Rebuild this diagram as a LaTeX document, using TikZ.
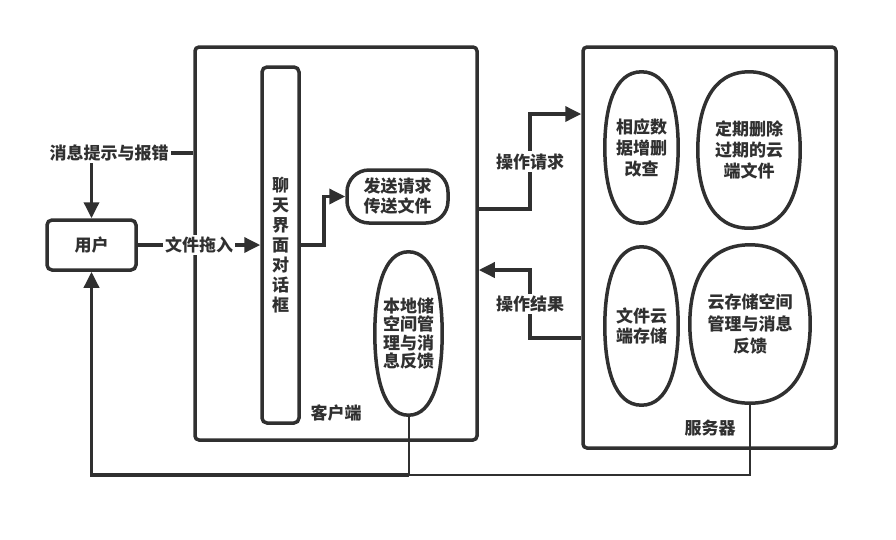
\documentclass[tikz,border=0pt]{standalone}
\usepackage{fontspec}
\setmainfont{Noto Sans CJK SC}
\usepackage{tikz}
\usetikzlibrary{arrows.meta,calc}
\definecolor{ink}{HTML}{303030}
\tikzset{
  line/.style={draw=ink, line width=3.5pt},
  thinline/.style={draw=ink, line width=2pt},
  arr/.style={line, -{Triangle[length=16pt,width=15pt]}},
  txt/.style={font=\bfseries\fontsize{17}{20}\selectfont, text=ink, align=center, inner sep=2pt},
  frame/.style={line, rounded corners=4pt, inner sep=0pt},
  box/.style={line, rounded corners=5pt, inner sep=0pt, txt},
  oval/.style={inner sep=0pt, txt}
}
% outline of an oval node, drawn round its anchors
\newcommand{\ovalpath}[1]{%
  (#1.east) .. controls ($(#1.east)!0.52!(#1.north east)$) and ($(#1.north)!0.75!(#1.north east)$) .. (#1.north)
  .. controls ($(#1.north)!0.75!(#1.north west)$) and ($(#1.west)!0.52!(#1.north west)$) .. (#1.west)
  .. controls ($(#1.west)!0.52!(#1.south west)$) and ($(#1.south)!0.75!(#1.south west)$) .. (#1.south)
  .. controls ($(#1.south)!0.75!(#1.south east)$) and ($(#1.east)!0.52!(#1.south east)$) .. (#1.east) -- cycle}
\begin{document}
\begin{tikzpicture}[x=1pt,y=-1pt]
\useasboundingbox (0,0) rectangle (896,539);
% frames
\node[frame, minimum width=282pt, minimum height=393pt] (client) at (336,243.5) {};
\node[frame, minimum width=253pt, minimum height=401pt] (server) at (709.5,247.5) {};
\node[txt] (clientlbl) at (336,413) {客户端};
\node[txt] (serverlbl) at (710,428) {服务器};
% client side
\node[box, minimum width=89pt, minimum height=50pt] (user) at (91.5,245) {用户};
\node[box, minimum width=37pt, minimum height=356pt] (chat) at (280.5,245) {聊\\天\\界\\面\\对\\话\\框};
\node[box, rounded corners=22pt, minimum width=101pt, minimum height=53pt] (send) at (397.5,196.5) {发送请求\\传送文件};
\node[oval, font=\bfseries\fontsize{17}{18.5}\selectfont, minimum width=67pt, minimum height=163pt] (local) at (408.5,333.5) {本地储\\空间管\\理与消\\息反馈};
% server side
\node[oval, font=\bfseries\fontsize{17}{21}\selectfont, minimum width=73pt, minimum height=151pt] (crud) at (641.5,147.5) {相应数\\据增删\\改查};
\node[oval, font=\bfseries\fontsize{17}{21}\selectfont, minimum width=102pt, minimum height=156pt] (expire) at (749,150) {定期删除\\过期的云\\端文件};
\node[oval, minimum width=73pt, minimum height=158pt] (store) at (641.5,326) {文件云\\端存储};
\node[oval, font=\bfseries\fontsize{17}{22}\selectfont, minimum width=120pt, minimum height=158pt] (cloud) at (750,324) {云存储空间\\管理与消息\\反馈};
\foreach \n in {local,crud,expire,store,cloud}
  \draw[line] \ovalpath{\n};
% connectors
\node[txt] (msg) at (109,153) {消息提示与报错};
\draw[line] (client.west |- msg.east) -- (msg.east);
\draw[arr] (msg.south -| user.north) -- (user.north);
\draw[arr] (user.east) -- node[txt, fill=white] (drag) {文件拖入} (chat.west);
\draw[arr] (chat.east) -- ++(23,0) |- (send.west);
\draw[arr] (client.east |- 0,209) -- (530,209) |- node[pos=0.25, txt, fill=white] (req) {操作请求} (server.west |- 0,114);
\draw[arr] (server.west |- 0,338) -- (530,338) |- node[pos=0.25, txt, fill=white] (res) {操作结果} (client.east |- 0,270);
\coordinate (junction) at (local.south |- 0,475);
\draw[thinline] (local.south) -- (junction);
\draw[thinline] (cloud.south) |- (junction);
\draw[arr] (junction) -| (user.south);
\end{tikzpicture}
\end{document}
